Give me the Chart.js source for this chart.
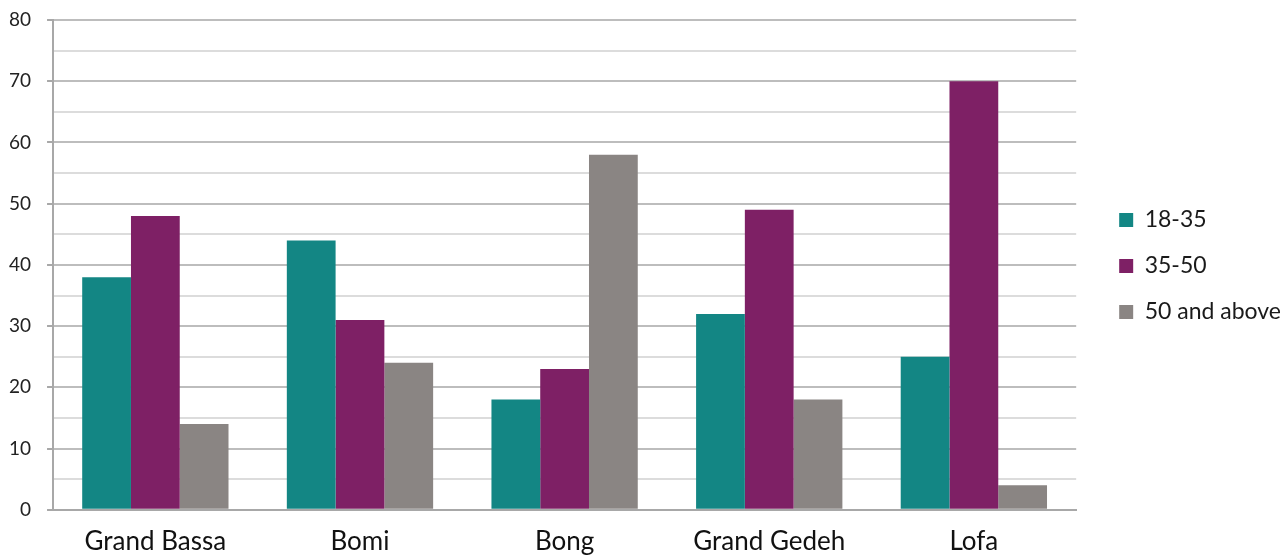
<!DOCTYPE html>
<html>
<head>
<meta charset="utf-8">
<script src="https://cdn.jsdelivr.net/npm/chart.js@4/dist/chart.umd.min.js"></script>
<style>
  html, body { margin: 0; padding: 0; background: #fff; }
  #wrap { width: 1283px; height: 556px; }
</style>
</head>
<body>
<div id="wrap"><canvas id="ageChart"></canvas></div>
<script>
// Counties and age groups
const counties = ["Grand Bassa", "Bomi", "Bong", "Grand Gedeh", "Lofa"];
const group1835 = [38, 44, 18, 32, 25];
const group3550 = [48, 31, 23, 49, 70];
const group50up = [14, 24, 58, 18, 4];

Chart.defaults.font.family = "Lato, 'Noto Sans', sans-serif";
Chart.defaults.color = "#1a1a1a";

const ctx = document.getElementById("ageChart").getContext("2d");
new Chart(ctx, {
  type: "bar",
  data: {
    labels: counties,
    datasets: [
      { label: "18-35", data: group1835, backgroundColor: "#138684" },
      { label: "35-50", data: group3550, backgroundColor: "#7e2065" },
      { label: "50 and above", data: group50up, backgroundColor: "#8a8583" },
    ],
  },
  options: {
    responsive: true,
    maintainAspectRatio: false,
    animation: false,
    categoryPercentage: 0.715,
    barPercentage: 1,
    layout: { padding: { top: 20, right: -8, bottom: -17, left: -7 } },
    plugins: {
      tooltip: { enabled: false },
      legend: {
        position: "right",
        align: "start",
        title: { display: true, text: "", padding: { top: 151, bottom: 0 } },
        labels: {
          boxWidth: 14,
          boxHeight: 14,
          padding: 23,
          font: { size: 23 },
          color: "#1a1a1a",
        },
      },
    },
    scales: {
      x: {
        grid: { display: false, drawTicks: false },
        border: { color: "#a8a8a8", width: 2 },
        ticks: { font: { size: 26 }, padding: 16, color: "#111" },
      },
      y: {
        min: 0,
        max: 80,
        ticks: {
          stepSize: 5,
          autoSkip: false,
          padding: 16,
          font: { size: 19 },
          color: "#222",
          callback: (v) => (v % 10 === 0 ? v : ""),
        },
        grid: {
          color: (c) => (c.tick && c.tick.value % 10 === 0 ? "#bdbdbd" : "#dcdcdc"),
          tickColor: (c) => (c.tick && c.tick.value % 10 === 0 ? "#a8a8a8" : "rgba(0,0,0,0)"),
          tickLength: 6,
          lineWidth: 2,
        },
        border: { color: "#a8a8a8", width: 2 },
        // don't let the tick padding push the plot down
        afterFit: (scale) => { scale.paddingTop = 0; },
      },
      // empty axis, only used as a gap between plot and legend
      gap: {
        type: "linear",
        position: "right",
        grid: { display: false, drawTicks: false },
        border: { display: false },
        ticks: { display: false },
        afterFit: (scale) => { scale.width = 20; },
      },
    },
  },
});
</script>
</body>
</html>
